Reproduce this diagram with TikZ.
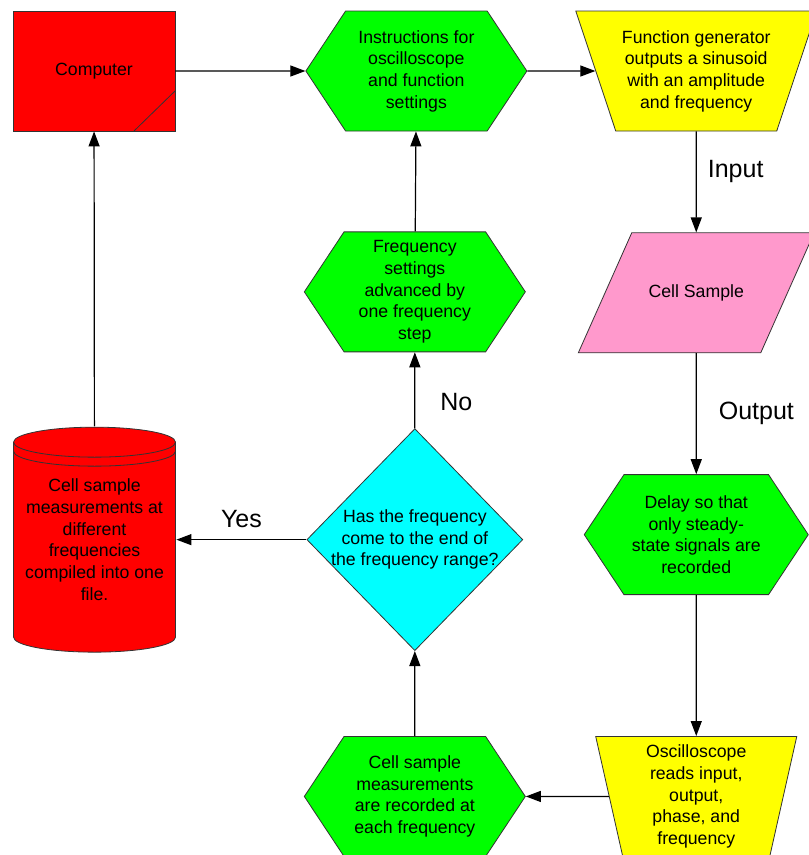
\documentclass[tikz,border=0pt]{standalone}
\usepackage{fontspec}
\setmainfont{Liberation Sans}
\usetikzlibrary{positioning,shapes.geometric,shapes.symbols,arrows.meta}
\definecolor{boxred}{RGB}{255,0,0}
\definecolor{hexgreen}{RGB}{0,255,0}
\definecolor{genyellow}{RGB}{255,255,0}
\definecolor{samplepink}{RGB}{255,153,204}
\definecolor{askcyan}{RGB}{0,255,255}
\tikzset{
    boxtext/.style={
        align=center,
        inner sep=0pt,
        font=\fontsize{17.7}{21.7}\selectfont
    },
    box/.style={
        boxtext,
        draw=black!80,
        line width=0.8pt
    },
    compbox/.style={
        box,
        rectangle,
        fill=boxred,
        minimum width=162pt,
        minimum height=120pt,
        path picture={\draw[line width=0.8pt] ([yshift=40pt]path picture bounding box.south east) -- ([xshift=-41pt]path picture bounding box.south east);}
    },
    hexbox/.style={
        box,
        signal,
        signal to=east and west,
        signal pointer angle=113,
        fill=hexgreen,
        minimum width=221pt,
        minimum height=120pt
    },
    genbox/.style={
        box,
        trapezium,
        shape border rotate=180,
        fill=genyellow,
        text height=60pt,
        text depth=60pt
    },
    samplebox/.style={
        box,
        trapezium,
        trapezium left angle=66,
        trapezium right angle=114,
        fill=samplepink,
        text width=129pt,
        text height=60pt,
        text depth=60pt
    },
    decision/.style={
        box,
        diamond,
        fill=askcyan,
        minimum width=216pt,
        minimum height=222pt
    },
    store/.style={
        box,
        draw=none,
        rectangle,
        minimum width=163pt,
        minimum height=226pt,
        path picture={
            \coordinate (cyl) at ([xshift=0.5pt,yshift=-15.5pt]path picture bounding box.north west);
            \filldraw[fill=boxred, line width=0.8pt] (cyl) -- ++(0,-195pt)
                arc[start angle=180, end angle=360, x radius=81pt, y radius=15pt] -- ++(0,195pt)
                arc[start angle=0, end angle=180, x radius=81pt, y radius=15pt] -- cycle;
            \draw[line width=0.8pt] (cyl) arc[start angle=180, end angle=360, x radius=81pt, y radius=15pt];
            \draw[line width=0.8pt] ([yshift=-9pt]cyl) arc[start angle=180, end angle=360, x radius=81pt, y radius=15pt];
        }
    },
    lbl/.style={
        inner sep=0pt,
        font=\fontsize{25}{30}\selectfont
    },
    line/.style={
        -{Triangle[length=15pt,width=11pt]},
        line width=1.2pt,
        black
    }
}

\begin{document}
\begin{tikzpicture}[x=1pt, y=-1pt]

    \useasboundingbox (0,0) rectangle (809,855);

    \node[compbox] (computer) at (94,71) {Computer};
    \node[hexbox, right=130pt of computer] (instr) {Instructions for\\oscilloscope\\and function\\settings};
    \node[genbox, trapezium angle=71.6, text width=161pt, right=68pt of instr,
        label={[boxtext]center:Function generator\\outputs a sinusoid\\with an amplitude\\and frequency}] (fungen) {};
    \node[samplebox, below=101pt of fungen, label={[boxtext]center:Cell Sample}] (sample) {};
    \node[hexbox, minimum width=224pt, below=121pt of sample] (delay) {Delay so that\\only steady-\\state signals are\\recorded};
    \node[genbox, trapezium angle=77.3, text width=147pt, below=141pt of delay,
        label={[boxtext]center:Oscilloscope\\reads input,\\output,\\phase, and\\frequency}] (osc) {};
    \node[hexbox, left=83pt of osc] (cellrec) {Cell sample\\measurements\\are recorded at\\each frequency};
    \node[decision, above=85pt of cellrec, label={[boxtext]center:Has the frequency\\come to the end of\\the frequency range?}] (decide) {};
    \node[hexbox, above=76pt of decide] (freq) {Frequency\\settings\\advanced by\\one frequency\\step};
    \node[store, left=130pt of decide] (store) {Cell sample\\measurements at\\different\\frequencies\\compiled into one\\file.};

    \draw[line] (computer) -- (instr);
    \draw[line] (instr) -- (fungen);
    \draw[line] (fungen) -- node[lbl, pos=0.4, right=11pt] {Input} (sample);
    \draw[line] (sample) -- node[lbl, right=22pt] {Output} (delay);
    \draw[line] (delay) -- (osc);
    \draw[line] (osc) -- (cellrec);
    \draw[line] (cellrec) -- (decide);
    \draw[line] (decide) -- node[lbl, pos=0.34, right=25pt] {No} (freq);
    \draw[line] (freq) -- (instr);
    \draw[line] (decide) -- node[lbl, above=11pt] {Yes} (store);
    \draw[line] (store) -- (computer);

\end{tikzpicture}
\end{document}
